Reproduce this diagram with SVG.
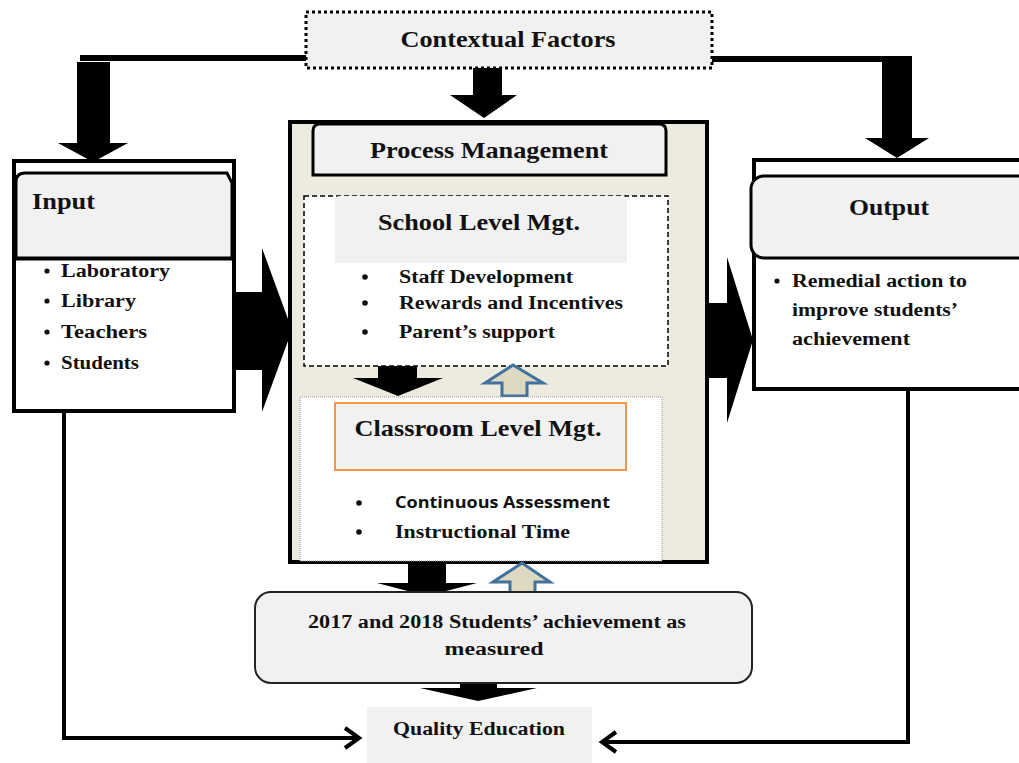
<svg xmlns="http://www.w3.org/2000/svg" width="1019" height="763" viewBox="0 0 1019 763">
<style>
.t{font-family:"Liberation Serif","Times New Roman",serif;font-weight:bold;fill:#111}
.h{font-size:23px}
.b{font-size:18px}
.s{font-family:"Open Sans","DejaVu Sans",sans-serif;font-weight:bold;font-size:16px;fill:#111}
.fat{fill:#000}
.blue{fill:#ddd9c3;stroke:#41719c;stroke-width:3;stroke-linejoin:miter}
.ln{fill:none;stroke:#000;stroke-width:4}
.grey{fill:#f1f1f1}
</style>
<rect width="1019" height="763" fill="#fff"/>

<g id="connectors">
  <line x1="80" y1="58" x2="306" y2="58" stroke="#000" stroke-width="6"/>
  <polygon class="fat" points="77,62 110,62 110,143 128,143 93,162 58,143 77,143"/>
  <line x1="711" y1="59" x2="912" y2="59" stroke="#000" stroke-width="6"/>
  <polygon class="fat" points="882,57 912,57 912,138 929,138 897,158 865,138 882,138"/>
  <polygon class="fat" points="473,68 502,68 502,95 517,95 484,118 450,95 473,95"/>
  <polygon class="fat" points="235,292 262,292 262,248 292,330 262,412 262,370 235,370"/>
  <polygon class="fat" points="706,303 727,303 727,257 753,340 727,423 727,378 706,378"/>
  <path class="ln" d="M64,412 V738 H357"/>
  <polyline class="ln" points="345,728 359,738 345,748"/>
  <path class="ln" d="M908,390 V742 H603"/>
  <polyline class="ln" points="616,732 602,742 616,752"/>
</g>

<g id="contextual">
  <rect x="306" y="12" width="406" height="56" class="grey" stroke="#000" stroke-width="3" stroke-dasharray="3,3"/>
  <text class="t h" x="508" y="47" text-anchor="middle" textLength="215" lengthAdjust="spacingAndGlyphs">Contextual Factors</text>
</g>

<g id="input">
  <rect x="14" y="161" width="220" height="250" fill="#fff" stroke="#000" stroke-width="4"/>
  <path d="M16,258 V182 Q16,173 25,173 H227 L232,183 V258 Z" class="grey" stroke="#000" stroke-width="3"/>
  <line x1="14" y1="259" x2="234" y2="259" stroke="#000" stroke-width="3"/>
  <text class="t h" x="32" y="209" textLength="63" lengthAdjust="spacingAndGlyphs">Input</text>
  <g class="t b">
    <circle cx="47" cy="271" r="2.6"/><text x="61" y="277" textLength="109" lengthAdjust="spacingAndGlyphs">Laboratory</text>
    <circle cx="47" cy="301" r="2.6"/><text x="61" y="307" textLength="75" lengthAdjust="spacingAndGlyphs">Library</text>
    <circle cx="47" cy="332" r="2.6"/><text x="61" y="338" textLength="86" lengthAdjust="spacingAndGlyphs">Teachers</text>
    <circle cx="47" cy="363" r="2.6"/><text x="61" y="369" textLength="78" lengthAdjust="spacingAndGlyphs">Students</text>
  </g>
</g>

<g id="process">
  <rect x="290" y="122" width="417" height="440" fill="#edebe0" stroke="#000" stroke-width="4"/>
  <path d="M313,175 V131 Q313,124 320,124 H659 Q666,124 666,131 V175 Z" class="grey" stroke="#000" stroke-width="3"/>
  <text class="t h" x="489" y="158" text-anchor="middle" textLength="238" lengthAdjust="spacingAndGlyphs">Process Management</text>
</g>

<g id="school-level">
  <rect x="304" y="196" width="364" height="170" fill="#fff" stroke="#000" stroke-width="1.5" stroke-dasharray="5,3"/>
  <path d="M335,263 V201 Q335,196 340,196 H622 Q627,196 627,201 V263 Z" class="grey"/>
  <text class="t h" x="479" y="230" text-anchor="middle" textLength="202" lengthAdjust="spacingAndGlyphs">School Level Mgt.</text>
  <g class="t b">
    <circle cx="365" cy="277" r="2.8"/><text x="399" y="283" textLength="174" lengthAdjust="spacingAndGlyphs">Staff Development</text>
    <circle cx="365" cy="303" r="2.8"/><text x="399" y="309" textLength="224" lengthAdjust="spacingAndGlyphs">Rewards  and Incentives</text>
    <circle cx="365" cy="332" r="2.8"/><text x="399" y="338" textLength="156" lengthAdjust="spacingAndGlyphs">Parent’s support</text>
  </g>
</g>

<g id="inner-arrows">
  <polygon class="fat" points="378,366 417,366 417,378 443,378 398,396 353,378 378,378"/>
  <polygon class="blue" points="513,365 543,383 527,383 527,396 502,396 502,383 485,383"/>
  <polygon class="fat" points="408,561 446,561 446,583 477,583 427,596 377,583 408,583"/>
  <polygon class="blue" points="522,563 550,582 535,582 535,594 510,594 510,582 493,582"/>
  <polygon class="fat" points="460,678 497,678 497,688 537,688 478,701 420,688 460,688"/>
</g>

<g id="classroom-level">
  <rect x="300" y="397" width="362" height="164" fill="#fff" stroke="#999" stroke-width="1" stroke-dasharray="1,1"/>
  <rect x="335" y="403" width="291" height="67" class="grey" stroke="#f79646" stroke-width="2"/>
  <text class="t h" x="478" y="436" text-anchor="middle" textLength="247" lengthAdjust="spacingAndGlyphs">Classroom Level Mgt.</text>
  <circle cx="359" cy="503" r="2.8" fill="#111"/>
  <text class="s" x="395" y="508" textLength="215" lengthAdjust="spacingAndGlyphs">Continuous Assessment</text>
  <circle cx="359" cy="532" r="2.8" fill="#111"/>
  <text class="t b" x="395" y="538" textLength="175" lengthAdjust="spacingAndGlyphs">Instructional Time</text>
</g>

<g id="output">
  <path d="M1025,160 H754 V389 H1025" fill="#fff" stroke="#000" stroke-width="4"/>
  <rect x="751" y="176" width="280" height="82" rx="13" class="grey" stroke="#000" stroke-width="3"/>
  <text class="t h" x="889" y="215" text-anchor="middle" textLength="80" lengthAdjust="spacingAndGlyphs">Output</text>
  <g class="t b">
    <circle cx="777" cy="281" r="2.6"/>
    <text x="792" y="287" textLength="175" lengthAdjust="spacingAndGlyphs">Remedial action to</text>
    <text x="792" y="316" textLength="166" lengthAdjust="spacingAndGlyphs">improve students’</text>
    <text x="792" y="345" textLength="118" lengthAdjust="spacingAndGlyphs">achievement</text>
  </g>
</g>

<g id="achievement">
  <rect x="255" y="592" width="497" height="91" rx="16" class="grey" stroke="#222" stroke-width="2"/>
  <text class="t b" x="497" y="628" text-anchor="middle" textLength="378" lengthAdjust="spacingAndGlyphs">2017 and 2018 Students’  achievement as</text>
  <text class="t b" x="494" y="655" text-anchor="middle" textLength="99" lengthAdjust="spacingAndGlyphs">measured</text>
</g>

<g id="quality">
  <rect x="367" y="707" width="225" height="56" class="grey"/>
  <text class="t b" x="479" y="735" text-anchor="middle" textLength="172" lengthAdjust="spacingAndGlyphs">Quality Education</text>
</g>
</svg>
